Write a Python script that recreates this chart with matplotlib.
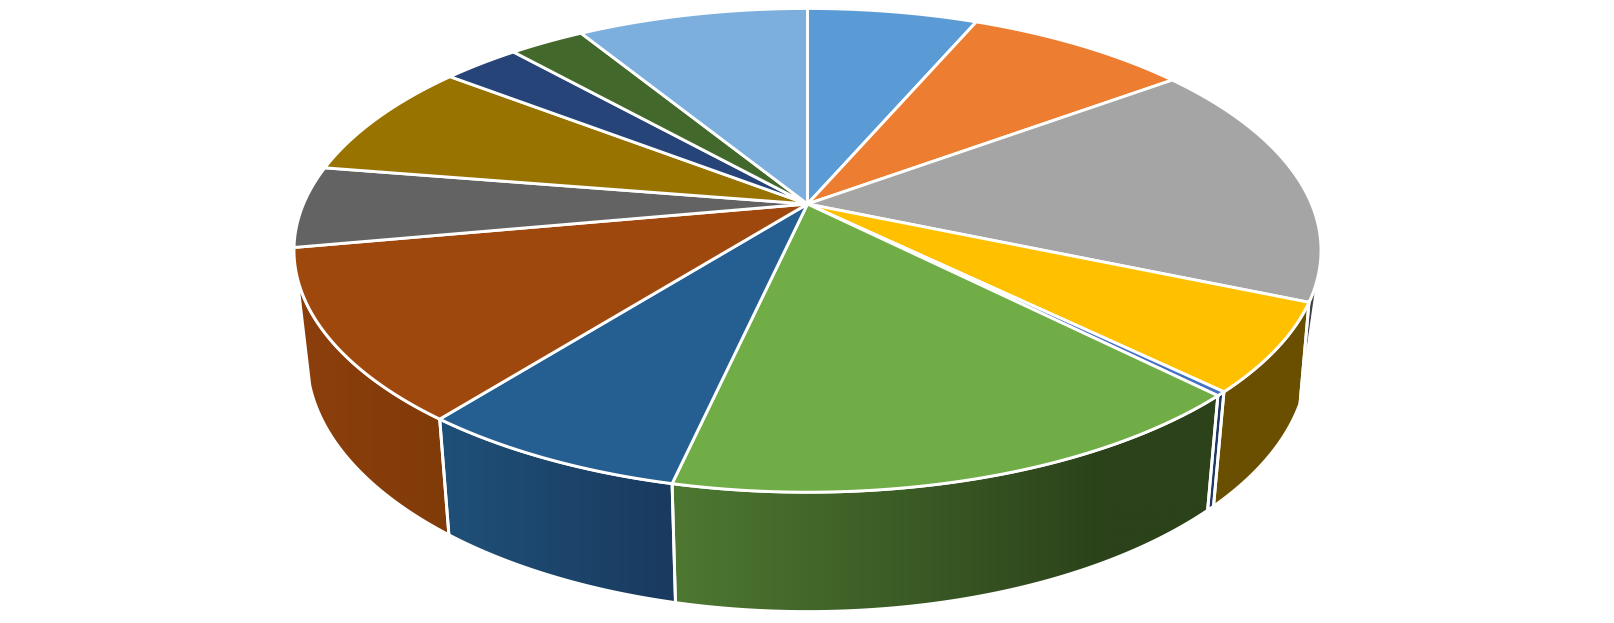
import numpy as np
import matplotlib
matplotlib.use("Agg")
import matplotlib.pyplot as plt
from matplotlib.colors import to_rgb
from matplotlib.patches import Polygon

# slice shares in percent, clockwise from 12 o'clock
shares = [6.44, 8.47, 16.47, 5.92, 0.28, 15.92, 7.14, 11.47, 5.44, 7.89, 2.94, 2.86, 8.75]
colors = ['#5B9BD5', '#ED7D31', '#A5A5A5', '#FFC000', '#4472C4', '#70AD47', '#255E91',
          '#9E480E', '#636363', '#997300', '#264478', '#43682B', '#7CAFDD']
# wall colours for the slices seen from the front:
# left end, right end, share of the width over which the colour changes
wall_colors = {2: ('#424246', '#424246', 1.0), 3: ('#6a4f00', '#6a4f00', 1.0),
               4: ('#1f3864', '#1f3864', 1.0), 5: ('#4e7832', '#2b421a', 0.8),
               6: ('#1f5078', '#1a3a5f', 1.0), 7: ('#8c3f0c', '#803b09', 1.0)}

# perspective of the disc, in pixels of the 1615x623 picture
CX, CY = 807.5, 204
RX, RY = 504, 233
PERSP = 0.1915
BOTTOM_CY = 309
BOTTOM_SX, BOTTOM_SY = 0.975, 1.05
WALL_FROM, WALL_TO = 104, 253
RIGHT_CORNER = 111  # where the right hand wall edges meet the bottom rim


def top_rim(deg):
    t = np.radians(deg)
    w = 1 + PERSP * np.cos(t)
    return CX + RX * np.sin(t) / w, CY - RY * np.cos(t) / w


def bottom_rim(deg):
    t = np.radians(deg)
    w = 1 + PERSP * np.cos(t)
    return CX + BOTTOM_SX * RX * np.sin(t) / w, BOTTOM_CY - BOTTOM_SY * RY * np.cos(t) / w


fig = plt.figure(figsize=(16.15, 6.23), dpi=100)
ax = fig.add_axes([0, 0, 1, 1])

edges = np.cumsum([0] + shares) / sum(shares) * 360

# side walls first
for i, (left_c, right_c, span) in wall_colors.items():
    a = max(edges[i], WALL_FROM)
    b = min(edges[i + 1], WALL_TO)
    th = np.linspace(a, b, max(2, int((b - a) * 2)))
    if i == 2:
        # only a sliver of this wall shows, it narrows to a point at the bottom
        bot = np.full_like(th, RIGHT_CORNER)
    elif i == 3:
        bot = np.linspace(RIGHT_CORNER, b, len(th))
    else:
        bot = th
    tx, ty = top_rim(th)
    bx, by = bottom_rim(bot)
    outline = list(zip(tx, ty)) + list(zip(bx[::-1], by[::-1]))

    x_lo, x_hi = min(tx.min(), bx.min()), max(tx.max(), bx.max())
    y_lo, y_hi = min(ty.min(), by.min()), max(ty.max(), by.max())
    f = np.clip(np.linspace(0, 1, 400) / span, 0, 1)[:, None]
    grad = (1 - f) * np.array(to_rgb(left_c)) + f * np.array(to_rgb(right_c))
    im = ax.imshow(grad[None, :, :], extent=(x_lo, x_hi, y_hi, y_lo), aspect='auto',
                   interpolation='bilinear', zorder=2)
    clip = Polygon(outline, transform=ax.transData)
    im.set_clip_path(clip)
    ax.add_patch(Polygon(outline, facecolor='none', edgecolor='white', linewidth=2.1,
                         joinstyle='round', zorder=3))

# top face
for i, c in enumerate(colors):
    th = np.linspace(edges[i], edges[i + 1], max(2, int(shares[i] * 12)))
    x, y = top_rim(th)
    pts = [(CX, CY)] + list(zip(x, y))
    ax.add_patch(Polygon(pts, facecolor=c, edgecolor='white', linewidth=2.1,
                         joinstyle='round', zorder=4))

ax.set_xlim(0, 1615)
ax.set_ylim(623, 0)
ax.axis('off')

fig.savefig('out.png', dpi=100, facecolor='white')
